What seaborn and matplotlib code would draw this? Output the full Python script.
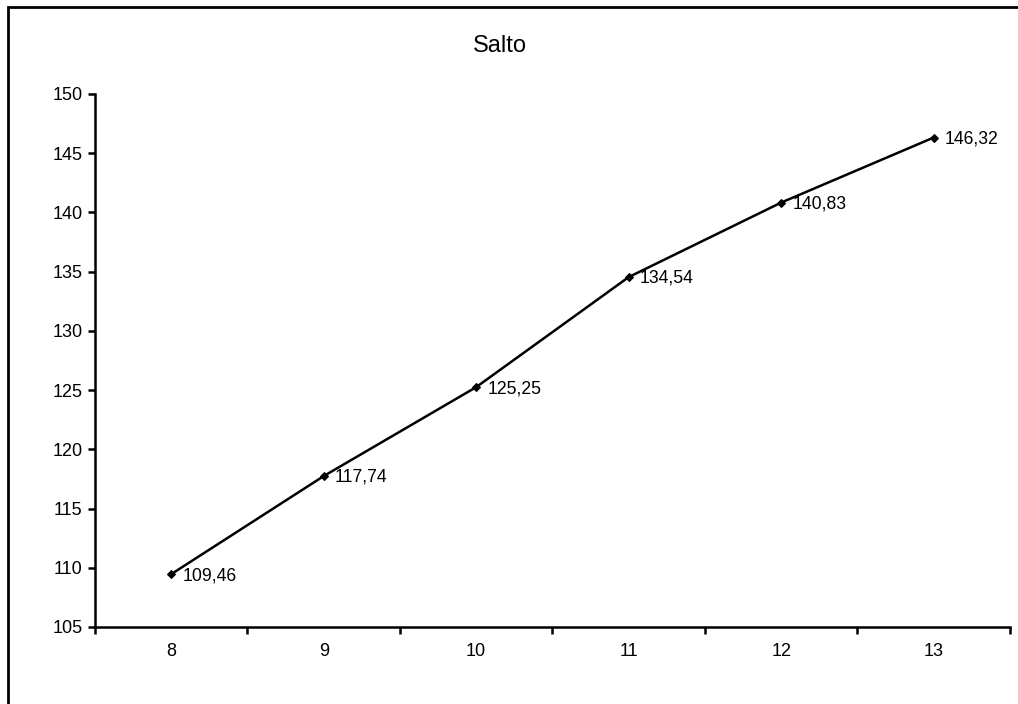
import numpy as np
import pandas as pd
import matplotlib
matplotlib.use("Agg")
import matplotlib.pyplot as plt
import seaborn as sns
from matplotlib.patches import Rectangle
from matplotlib.ticker import FixedLocator, NullFormatter

# data
edades = [8, 9, 10, 11, 12, 13]
salto = [109.46, 117.74, 125.25, 134.54, 140.83, 146.32]
etiquetas = ["109,46", "117,74", "125,25", "134,54", "140,83", "146,32"]

df = pd.DataFrame({"edad": edades, "salto": salto})

sns.set_style("white")
plt.rcParams['font.family'] = ['Liberation Sans', 'DejaVu Sans']
plt.rcParams['text.color'] = 'black'
plt.rcParams['xtick.color'] = 'black'
plt.rcParams['ytick.color'] = 'black'

fig = plt.figure(figsize=(10.18, 7.04), dpi=100)
ax = fig.add_axes([0.0933, 0.1094, 0.8987, 0.7571])

sns.lineplot(data=df, x="edad", y="salto", ax=ax, color="black", linewidth=1.8,
             marker="D", markersize=4.5, markeredgecolor="black")

for x, y, t in zip(edades, salto, etiquetas):
    ax.annotate(t, (x, y), xytext=(8, -1), textcoords="offset points",
                va="center", ha="left", fontsize=12.7, color="black")

ax.set_xlim(7.5, 13.5)
ax.set_ylim(105, 150)
ax.set_yticks(np.arange(105, 151, 5))
ax.set_xticks(edades)
ax.xaxis.set_minor_locator(FixedLocator(np.arange(7.5, 13.6, 1)))
ax.xaxis.set_minor_formatter(NullFormatter())
ax.tick_params(axis="x", which="major", bottom=True, length=0, pad=11.5, labelsize=13)
ax.tick_params(axis="x", which="minor", bottom=True, length=5, width=1.8, direction="out", color="black")
ax.tick_params(axis="y", left=True, length=5, width=1.8, direction="out", color="black", labelsize=13, pad=4)
ax.set_xlabel("")
ax.set_ylabel("")

for s in ["top", "right"]:
    ax.spines[s].set_visible(False)
for s in ["left", "bottom"]:
    ax.spines[s].set_linewidth(1.8)
    ax.spines[s].set_color("black")

fig.text(0.491, 0.935, "Salto", ha="center", va="center", fontsize=17, color="black")

# outer chart frame (partially outside the image)
fig.patches.append(Rectangle((0.008, -0.5), 1.5, 1.49, transform=fig.transFigure,
                             fill=False, edgecolor="black", linewidth=2))

fig.savefig("out.png", dpi=100)
